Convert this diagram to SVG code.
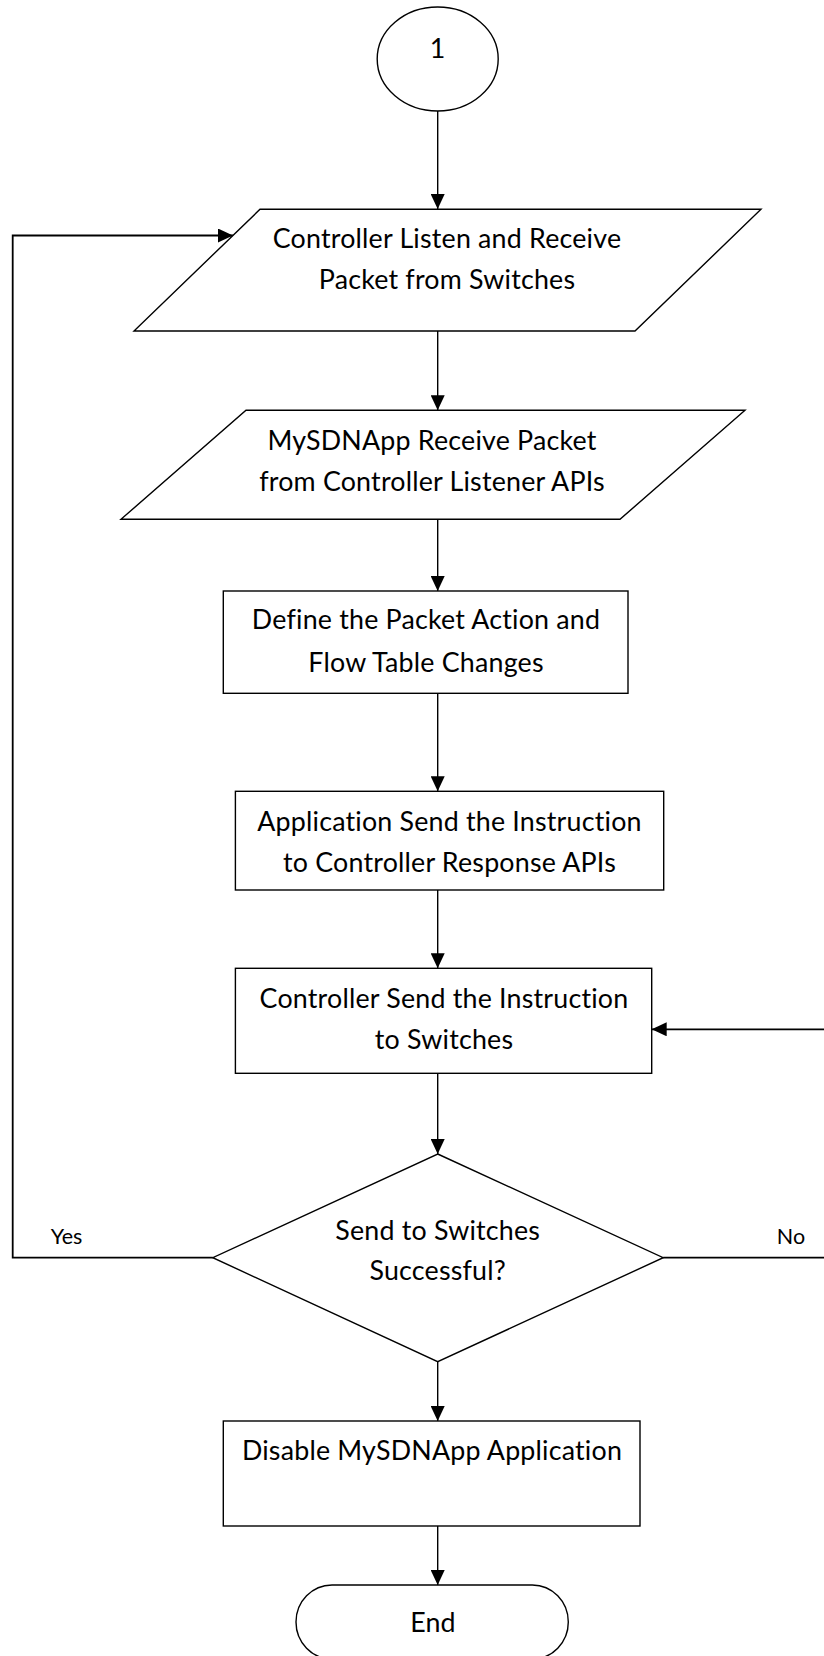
<svg xmlns="http://www.w3.org/2000/svg" width="824" height="1656" viewBox="0 0 824 1656">
<style>
.s{fill:#fff;stroke:#000;stroke-width:1.4}
.t{font-family:Lato,"Liberation Sans",sans-serif;font-size:26.8px;letter-spacing:0.2px;fill:#000;text-anchor:middle}
.l{font-family:Lato,"Liberation Sans",sans-serif;font-size:21.5px;fill:#000;text-anchor:middle}
.c{fill:none;stroke:#000;stroke-width:1.4}
.c2{fill:none;stroke:#000;stroke-width:1.8}
</style>
<defs>
<marker id="a" markerUnits="userSpaceOnUse" markerWidth="16" markerHeight="14" refX="15" refY="7" orient="auto">
<path d="M0,0 L15,7 L0,14 Z" fill="#000"/>
</marker>
</defs>
<rect width="824" height="1656" fill="#fff"/>
<g id="connectors">
<line class="c" x1="437.7" y1="111" x2="437.7" y2="209" marker-end="url(#a)"/>
<line class="c" x1="437.7" y1="331" x2="437.7" y2="410.3" marker-end="url(#a)"/>
<line class="c" x1="437.7" y1="519.3" x2="437.7" y2="591" marker-end="url(#a)"/>
<line class="c" x1="437.7" y1="693.3" x2="437.7" y2="791.3" marker-end="url(#a)"/>
<line class="c" x1="437.7" y1="890" x2="437.7" y2="968.3" marker-end="url(#a)"/>
<line class="c" x1="437.7" y1="1073.3" x2="437.7" y2="1154" marker-end="url(#a)"/>
<line class="c" x1="437.7" y1="1361.7" x2="437.7" y2="1421" marker-end="url(#a)"/>
<line class="c" x1="437.7" y1="1526" x2="437.7" y2="1585" marker-end="url(#a)"/>
<polyline class="c2" points="212.8,1257.7 12.7,1257.7 12.7,235.5 233,235.5" marker-end="url(#a)"/>
<polyline class="c2" points="663.2,1257.7 826,1257.7"/>
<polyline class="c2" points="826,1029.3 651.7,1029.3" marker-end="url(#a)"/>
<text class="l" x="66.5" y="1244">Yes</text>
<text class="l" x="791" y="1244">No</text>
</g>
<g id="start">
<ellipse class="s" cx="437.7" cy="59" rx="60.5" ry="52"/>
<text class="t" x="437.7" y="58">1</text>
</g>
<g id="listen">
<polygon class="s" points="260,209.3 761,209.3 635,331 134,331"/>
<text class="t" x="447" y="248">Controller Listen and Receive</text>
<text class="t" x="447" y="289">Packet from Switches</text>
</g>
<g id="receive">
<polygon class="s" points="246,410.3 745,410.3 620,519.3 121,519.3"/>
<text class="t" x="432" y="450">MySDNApp Receive Packet</text>
<text class="t" x="432" y="490.7">from Controller Listener APIs</text>
</g>
<g id="define">
<rect class="s" x="223.3" y="591" width="404.7" height="102.3"/>
<text class="t" x="426" y="629.3">Define the Packet Action and</text>
<text class="t" x="426" y="671.7">Flow Table Changes</text>
</g>
<g id="appsend">
<rect class="s" x="235.4" y="791.3" width="428.3" height="98.7"/>
<text class="t" x="449.5" y="830.7">Application Send the Instruction</text>
<text class="t" x="449.5" y="871.7">to Controller Response APIs</text>
</g>
<g id="ctrlsend">
<rect class="s" x="235.4" y="968.3" width="416.3" height="105"/>
<text class="t" x="444" y="1008.3">Controller Send the Instruction</text>
<text class="t" x="444" y="1049.3">to Switches</text>
</g>
<g id="decision">
<polygon class="s" points="437.7,1154 663.2,1257.7 437.7,1361.7 212.8,1257.7"/>
<text class="t" x="437.7" y="1240">Send to Switches</text>
<text class="t" x="437.7" y="1280">Successful?</text>
</g>
<g id="disable">
<rect class="s" x="223.3" y="1421" width="416.7" height="105"/>
<text class="t" x="432" y="1460">Disable MySDNApp Application</text>
</g>
<g id="end">
<rect class="s" x="296" y="1585" width="272.3" height="74" rx="36" ry="37"/>
<text class="t" x="433" y="1632">End</text>
</g>
</svg>
